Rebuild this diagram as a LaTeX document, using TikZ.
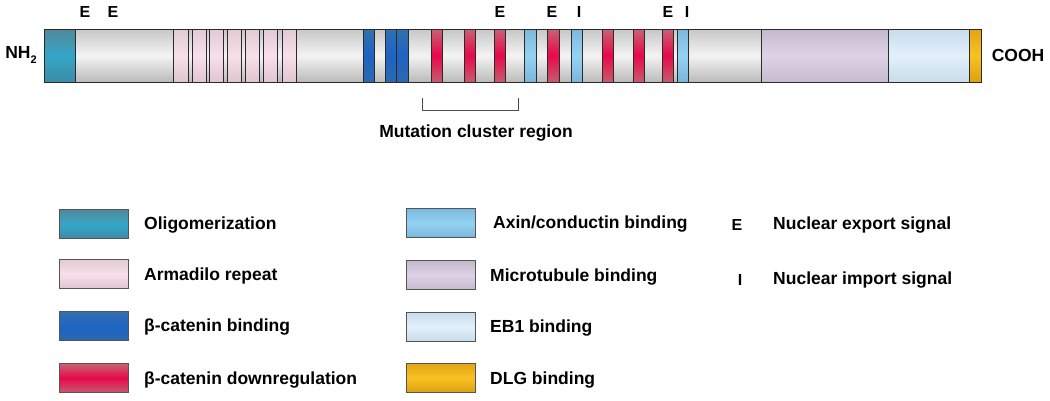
\documentclass[tikz,border=0pt]{standalone}
\usepackage{fontspec}
\setmainfont{Liberation Sans}
\definecolor{barT}{HTML}{C6C6C6}
\definecolor{barM}{HTML}{F4F4F4}
\definecolor{barB}{HTML}{BABABA}
\definecolor{olT}{HTML}{52889A}
\definecolor{olM}{HTML}{34A6C6}
\definecolor{olB}{HTML}{3C8CA8}
\definecolor{pkT}{HTML}{E0CAD4}
\definecolor{pkM}{HTML}{F8E0EA}
\definecolor{pkB}{HTML}{E0C4D0}
\definecolor{bcT}{HTML}{3270B0}
\definecolor{bcM}{HTML}{1E64C2}
\definecolor{bcB}{HTML}{2C68AE}
\definecolor{bdT}{HTML}{C86272}
\definecolor{bdM}{HTML}{E8084C}
\definecolor{bdB}{HTML}{C65C6C}
\definecolor{axT}{HTML}{7CB8DE}
\definecolor{axM}{HTML}{94D2F2}
\definecolor{axB}{HTML}{7AB6DC}
\definecolor{mtT}{HTML}{C4B8CC}
\definecolor{mtM}{HTML}{DDD2E6}
\definecolor{mtB}{HTML}{C6BACE}
\definecolor{ebT}{HTML}{C8DCEC}
\definecolor{ebM}{HTML}{E2F0FA}
\definecolor{ebB}{HTML}{C8DCEA}
\definecolor{dgT}{HTML}{E4A416}
\definecolor{dgM}{HTML}{F8C222}
\definecolor{dgB}{HTML}{DCA012}
\definecolor{edge}{HTML}{2A2A2A}
\begin{document}
\begin{tikzpicture}[x=1pt,y=-1pt,
  seg/.style={draw=edge, line width=0.6pt},
  grayfill/.style={top color=barT, bottom color=barB, middle color=barM},
  olig/.style={top color=olT, bottom color=olB, middle color=olM},
  pinkseg/.style={top color=pkT, bottom color=pkB, middle color=pkM},
  bcat/.style={top color=bcT, bottom color=bcB, middle color=bcM},
  bdown/.style={top color=bdT, bottom color=bdB, middle color=bdM},
  axin/.style={top color=axT, bottom color=axB, middle color=axM},
  micro/.style={top color=mtT, bottom color=mtB, middle color=mtM},
  ebone/.style={top color=ebT, bottom color=ebB, middle color=ebM},
  dlg/.style={top color=dgT, bottom color=dgB, middle color=dgM},
  lab/.style={font=\fontsize{17.5}{20}\selectfont\bfseries, inner sep=0pt},
  sig/.style={font=\fontsize{16}{18}\selectfont\bfseries, inner sep=0pt},
  legbox/.style={draw=edge!80, line width=0.8pt, minimum width=69pt, minimum height=29pt, inner sep=0pt},
]
\useasboundingbox (0,0) rectangle (1050,400);
\path[fill=white] (0,0) rectangle (1050,400);

% main bar
\path[seg, grayfill] (44,29) rectangle (981,82);
\foreach \a/\b/\s in {44/75/olig,
  173/188/pinkseg, 192/206/pinkseg, 209/223/pinkseg, 227/241/pinkseg,
  245/259/pinkseg, 263/277/pinkseg, 282/296/pinkseg,
  363/374/bcat, 385/396/bcat, 396/408/bcat,
  431/442/bdown, 464/475/bdown, 494/505/bdown,
  524/536/axin, 547/559/bdown, 571/582/axin,
  602/613/bdown, 633/644/bdown, 662/673/bdown, 677/688/axin,
  761/888/micro, 888/969/ebone, 969/981/dlg}
  {\path[seg, \s] (\a,29) rectangle (\b,82);}
\draw[seg] (44,29) rectangle (981,82);
\draw[edge, line width=1.6pt] (44.5,29) -- (44.5,82);

\node[lab] (nh) at (21,55) {NH\raisebox{-0.45ex}{\fontsize{11}{11}\selectfont 2}};
\node[lab] (cooh) at (1018,55) {COOH};

% signal letters
\node[sig] (e1) at (85,12) {E};
\node[sig] (e2) at (113,12) {E};
\node[sig] (e3) at (500,12) {E};
\node[sig] (e4) at (552,12) {E};
\node[sig] (i1) at (579,12) {I};
\node[sig] (e5) at (668,12) {E};
\node[sig] (i2) at (687,12) {I};

% mutation cluster
\coordinate (mL) at (422,98);
\coordinate (mR) at (518,98);
\draw[black!70, line width=0.9pt] (mL) -- ++(0,12) -| (mR);
\node[lab] (mut) at (476,133) {Mutation cluster region};

% legend column 1
\node[legbox, olig] (l1) at (93.5,224) {};
\node[legbox, pinkseg] (l2) at (93.5,274) {};
\node[legbox, bcat] (l3) at (93.5,326) {};
\node[legbox, bdown] (l4) at (93.5,378) {};
\node[lab, anchor=west] (t1) at (144,225) {Oligomerization};
\node[lab, anchor=west] (t2) at (144,276) {Armadilo repeat};
\node[lab, anchor=west] (t3) at (144,327) {β-catenin binding};
\node[lab, anchor=west] (t4) at (144,380) {β-catenin downregulation};

% legend column 2
\node[legbox, axin] (l5) at (441,223) {};
\node[legbox, micro] (l6) at (441,275) {};
\node[legbox, ebone] (l7) at (441,327) {};
\node[legbox, dlg] (l8) at (441,378) {};
\node[lab, anchor=west] (t5) at (493,224) {Axin/conductin binding};
\node[lab, anchor=west] (t6) at (490,277) {Microtubule binding};
\node[lab, anchor=west] (t7) at (490,328) {EB1 binding};
\node[lab, anchor=west] (t8) at (490,380) {DLG binding};

% signals legend
\node[sig] (se) at (737,225) {E};
\node[sig] (si) at (740,280) {I};
\node[lab, anchor=west] (st1) at (773,225) {Nuclear export signal};
\node[lab, anchor=west] (st2) at (773,280) {Nuclear import signal};
\end{tikzpicture}
\end{document}
